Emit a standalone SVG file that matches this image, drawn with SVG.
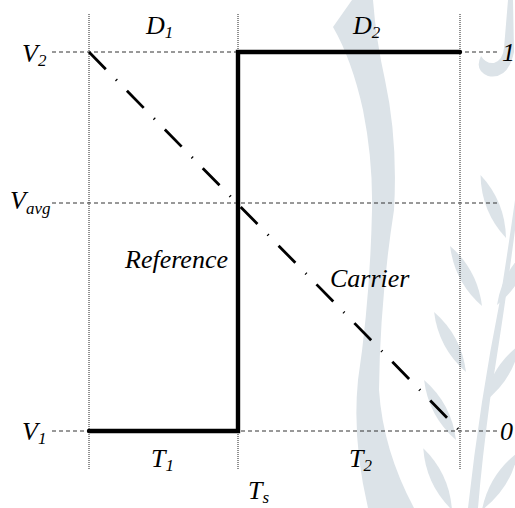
<svg xmlns="http://www.w3.org/2000/svg" width="515" height="508" viewBox="0 0 515 508">
<style>
.wm{fill:#dce3e8;stroke:none}
.guide{fill:none;stroke:#333;stroke-width:1;stroke-dasharray:4 3}
.dot{fill:none;stroke:#222;stroke-width:1;stroke-dasharray:1 1}
.sig{fill:none;stroke:#000;stroke-width:4.4;stroke-linejoin:miter;stroke-linecap:round}
.car{fill:none;stroke:#000;stroke-width:2.8;stroke-dasharray:24 14.6 1.2 14.4}
text{font-family:"Liberation Serif","Times New Roman",serif;font-style:italic;font-size:26px;fill:#000}
.sub{font-size:17px}
</style>
<defs>
<path id="grain" d="M0 0 Q13 -34 0 -68 Q-13 -34 0 0 Z"/>
</defs>
<g id="watermark" class="wm">
<path d="M352 0 L333 27 Q352 60 363 110 Q373 160 372 210 Q370 300 358 380 Q352 440 368 508 L414 508 Q383 450 379 390 Q380 300 394 210 Q398 140 385 80 Q376 40 373 0 Z"/>
<path d="M508 0 L513 0 L514 52 Q508 80 488 76 Q474 70 481 56 Q486 64 494 63 Q503 60 504 48 Z"/>
<use href="#grain" transform="translate(506,238) rotate(-22)"/>
<use href="#grain" transform="translate(482,306) rotate(-28)"/>
<use href="#grain" transform="translate(466,372) rotate(-28)"/>
<use href="#grain" transform="translate(456,440) rotate(-28)"/>
<use href="#grain" transform="translate(452,510) rotate(-25)"/>
<use href="#grain" transform="translate(497,305) rotate(30)"/>
<use href="#grain" transform="translate(484,402) rotate(32)"/>
<use href="#grain" transform="translate(482,510) rotate(32)"/>
<path d="M468 508 Q480 400 500 300 Q508 250 515 200 L515 230 Q506 300 490 400 Q482 460 478 508 Z"/>
</g>
<g id="connectors">
<line class="dot" x1="89" y1="14" x2="89" y2="469"/>
<line class="dot" x1="238" y1="14" x2="238" y2="469"/>
<line class="dot" x1="460" y1="14" x2="460" y2="469"/>
<line class="guide" x1="52" y1="52" x2="500" y2="52"/>
<line class="guide" x1="52" y1="203" x2="497" y2="203"/>
<line class="guide" x1="52" y1="431" x2="497" y2="431"/>
<line class="car" x1="89" y1="52" x2="460" y2="431"/>
<path class="sig" d="M89 431 L238 431 L238 52 L460 52"/>
</g>
<g id="labels">
<text x="22" y="62">V<tspan class="sub" dy="4">2</tspan></text>
<text x="10" y="209">V<tspan class="sub" dy="5">avg</tspan></text>
<text x="22" y="440">V<tspan class="sub" dy="4">1</tspan></text>
<text x="146" y="34">D<tspan class="sub" dy="4">1</tspan></text>
<text x="353" y="34">D<tspan class="sub" dy="4">2</tspan></text>
<text x="502" y="61">1</text>
<text x="500" y="440">0</text>
<text x="151" y="467">T<tspan class="sub" dy="4">1</tspan></text>
<text x="349" y="467">T<tspan class="sub" dy="4">2</tspan></text>
<text x="248" y="499">T<tspan class="sub" dy="4">s</tspan></text>
<text x="125" y="268">Reference</text>
<text x="330" y="287">Carrier</text>
</g>
</svg>
